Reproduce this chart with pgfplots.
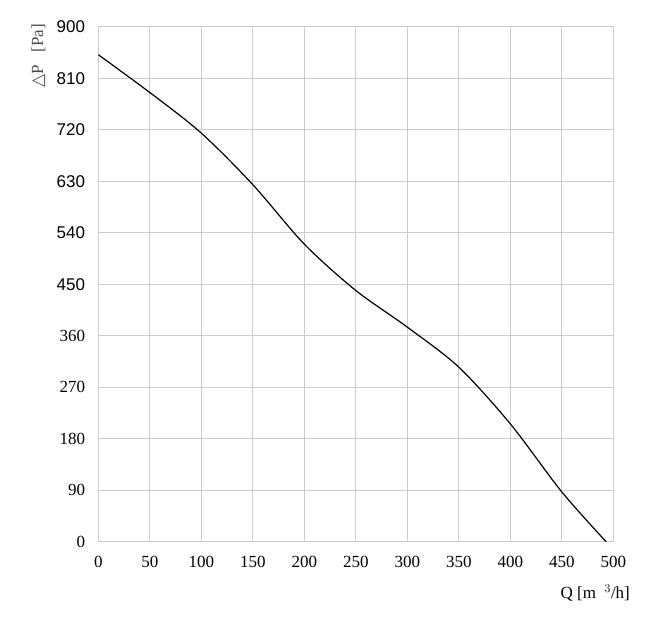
\documentclass[border=0pt]{standalone}
\usepackage{pgfplots}
\pgfplotsset{compat=1.18}
\usepackage{fontspec}
\setmainfont{Liberation Serif}
\newfontfamily\sansf{Liberation Sans}
\newfontfamily\symf{DejaVu Sans}

\begin{document}
\begin{tikzpicture}
  \begin{axis}[
    scale only axis,
    width=515pt, height=515pt,
    xmin=0, xmax=500, ymin=0, ymax=900,
    xtick={0,50,...,500},
    ytick={0,90,...,900},
    xticklabels={0,50,100,150,200,250,300,350,400,450,500},
    yticklabels={0,90,180,270,360,{\sansf 450},{\sansf 540},{\sansf 630},{\sansf 720},{\sansf 810},{\sansf 900}},
    major tick length=0pt,
    grid=major,
    grid style={gray!40, line width=0.9pt},
    axis line style={gray!40, line width=0.9pt},
    tick label style={font=\fontsize{17}{17}\selectfont, inner sep=0pt},
    yticklabel style={anchor=east, xshift=-13pt},
    xticklabel style={anchor=north, yshift=-14pt},
  ]
    \addplot[black, line width=1.2pt, smooth] coordinates {
      (0,851) (50,785) (100,714) (150,624) (200,520)
      (250,439) (300,375) (350,305) (400,206) (450,87) (493,0)
    };
    \coordinate (tl) at (rel axis cs:0,1);
    \coordinate (bl) at (rel axis cs:0,0);
    \coordinate (br) at (rel axis cs:1,0);
  \end{axis}
  \node[rotate=90, text=black!70, font=\fontsize{17}{17}\selectfont]
    at ([xshift=-60pt,yshift=-29pt]tl) {{\symf △}P\ \ \ [Pa]};
  \node[font=\fontsize{17}{17}\selectfont]
    at ([xshift=-18pt,yshift=-51.3pt]br) {Q\ [m\ \ $^{3}$/h]};
  \path ([xshift=-98.3pt,yshift=-86.3pt]bl) rectangle ++(670pt,628pt);
\end{tikzpicture}
\end{document}
